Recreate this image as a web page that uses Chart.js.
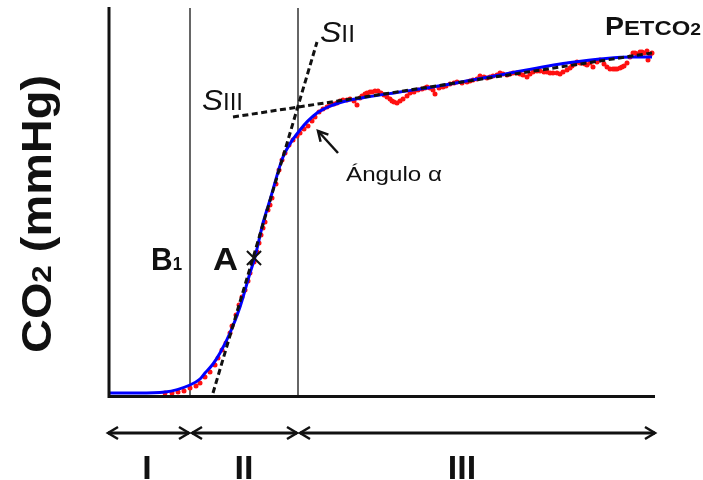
<!DOCTYPE html>
<html>
<head>
<meta charset="utf-8">
<script src="https://cdn.jsdelivr.net/npm/chart.js@4.4.1/dist/chart.umd.min.js"></script>
<style>
  body { margin: 0; background: #fff; }
  canvas { display: block; }
</style>
</head>
<body>
<canvas id="myChart" width="703" height="480"></canvas>
<script>
// Capnograma: tiempo (s) vs CO2 (mmHg)
const curveTime = [0, 0.3, 0.57, 0.82, 0.92, 0.97, 1.05, 1.12, 1.22, 1.32, 1.42, 1.47, 1.55, 1.62, 1.75, 1.92, 2.09, 2.25, 2.42, 2.59, 2.92, 3.25, 3.92, 4.59, 5.25, 5.44];
const curveCO2  = [0.2, 0.2, 0.3, 1.0, 1.6, 2.2, 3.1, 4.2, 6.2, 8.8, 12.2, 13.8, 17.2, 19.5, 23.8, 26.5, 28.2, 29.0, 29.5, 29.8, 30.3, 30.8, 32.0, 33.2, 33.8, 33.8];

// muestras medidas (puntos rojos)
const sampleTime = [0.57, 0.64, 0.70, 0.76, 0.82, 0.88, 0.92, 0.97, 1.02, 1.07, 1.10, 1.14, 1.18, 1.22, 1.24, 1.28, 1.31, 1.34, 1.37, 1.40, 1.42, 1.46, 1.49, 1.51, 1.53, 1.55, 1.57, 1.60, 1.62, 1.64, 1.68, 1.71, 1.74, 1.77, 1.81, 1.85, 1.89, 1.92, 1.96, 2.00, 2.04, 2.07, 2.11, 2.15, 2.19, 2.22, 2.26, 2.29, 2.32, 2.35, 2.39, 2.42, 2.46, 2.49, 2.52, 2.54, 2.57, 2.59, 2.62, 2.64, 2.67, 2.70, 2.73, 2.76, 2.79, 2.82, 2.84, 2.86, 2.89, 2.92, 2.95, 2.99, 3.02, 3.06, 3.10, 3.14, 3.17, 3.19, 3.22, 3.25, 3.27, 3.31, 3.35, 3.38, 3.42, 3.46, 3.49, 3.54, 3.59, 3.62, 3.65, 3.69, 3.72, 3.76, 3.79, 3.82, 3.85, 3.89, 3.92, 3.95, 3.99, 4.02, 4.05, 4.09, 4.12, 4.15, 4.19, 4.22, 4.25, 4.29, 4.32, 4.36, 4.39, 4.42, 4.45, 4.49, 4.52, 4.55, 4.59, 4.62, 4.64, 4.67, 4.69, 4.72, 4.74, 4.77, 4.79, 4.82, 4.85, 4.89, 4.92, 4.96, 4.99, 5.02, 5.05, 5.07, 5.09, 5.12, 5.14, 5.16, 5.19, 5.22, 5.25, 5.27, 5.29, 5.32, 5.34, 5.36, 5.39, 5.40, 5.42, 5.44];
const sampleCO2  = [0.2, 0.2, 0.3, 0.4, 0.7, 0.9, 1.2, 1.8, 2.3, 3.0, 3.7, 4.5, 5.2, 6.2, 6.9, 8.0, 9.0, 9.8, 10.5, 11.4, 12.2, 13.3, 14.3, 15.2, 16.0, 16.7, 17.3, 18.5, 19.0, 19.7, 21.1, 22.5, 23.5, 24.2, 25.0, 25.5, 25.9, 26.2, 26.6, 26.9, 27.4, 27.8, 28.3, 28.6, 28.8, 29.0, 29.1, 29.2, 29.4, 29.5, 29.5, 29.6, 29.4, 29.0, 29.7, 29.9, 30.1, 30.2, 30.3, 30.3, 30.4, 30.4, 30.2, 30.0, 29.8, 29.6, 29.4, 29.3, 29.2, 29.4, 29.6, 29.9, 30.2, 30.3, 30.5, 30.6, 30.7, 30.8, 30.7, 30.5, 30.1, 30.7, 30.8, 30.9, 31.1, 31.2, 31.3, 31.2, 31.3, 31.4, 31.5, 31.6, 31.9, 31.8, 31.7, 31.8, 31.9, 32.0, 32.2, 32.1, 32.0, 32.1, 32.2, 32.2, 32.1, 32.0, 31.8, 32.1, 32.3, 32.4, 32.4, 32.3, 32.3, 32.2, 32.2, 32.2, 32.1, 32.3, 32.5, 32.7, 32.9, 33.1, 33.3, 33.2, 33.2, 33.1, 33.0, 33.2, 32.8, 33.3, 33.5, 33.1, 32.8, 32.6, 32.6, 32.6, 32.6, 32.7, 32.8, 32.9, 33.2, 33.8, 34.2, 34.2, 34.1, 34.3, 34.3, 34.2, 34.4, 33.5, 34.0, 34.2];

// pendientes de fase II y fase III
const slopeIITime = [1.05, 2.09];
const slopeIICO2  = [0.2, 35.3];
const slopeIIITime = [1.25, 5.44];
const slopeIIICO2  = [27.8, 34.2];

// limites de fases
const phaseBounds = [0, 0.82, 1.90, 5.47];
const phaseLabels = ['I', 'II', 'III'];
const phaseLabelTime = [0.39, 1.36, 3.54];

const pointATime = [1.46];
const pointACO2 = [13.7];

const FONT = '"Liberation Sans", Arial, sans-serif';

function toXY(xs, ys) {
    return xs.map((x, i) => ({ x: x, y: ys[i] }));
}

// dibuja texto en partes y lo ajusta al ancho indicado
function drawParts(ctx, parts, x, y, width) {
    ctx.save();
    let natural = 0;
    parts.forEach(p => { ctx.font = p.font; natural += ctx.measureText(p.text).width; });
    ctx.translate(x, y);
    ctx.scale(width / natural, 1);
    let cx = 0;
    parts.forEach(p => {
        ctx.font = p.font;
        ctx.fillText(p.text, cx, 0);
        cx += ctx.measureText(p.text).width;
    });
    ctx.restore();
}

function chevron(ctx, x, y, dir) {
    ctx.beginPath();
    ctx.moveTo(x - dir * 10, y - 6);
    ctx.lineTo(x, y);
    ctx.lineTo(x - dir * 10, y + 6);
    ctx.stroke();
}

const annotate = {
    id: 'annotate',
    afterDatasetsDraw(chart) {
        const ctx = chart.ctx;
        const xs = chart.scales.x;
        const ys = chart.scales.y;
        const area = chart.chartArea;
        ctx.save();
        ctx.strokeStyle = '#111';
        ctx.fillStyle = '#111';
        ctx.lineCap = 'butt';

        // ejes
        ctx.lineWidth = 3;
        ctx.beginPath();
        ctx.moveTo(xs.getPixelForValue(0) + 1, area.top + 2);
        ctx.lineTo(xs.getPixelForValue(0) + 1, ys.getPixelForValue(0) + 1.5);
        ctx.lineTo(area.right, ys.getPixelForValue(0) + 1.5);
        ctx.stroke();

        // flechas de fases
        const ay = 433;
        ctx.lineWidth = 3;
        for (let i = 0; i < phaseLabels.length; i++) {
            const a = xs.getPixelForValue(phaseBounds[i]) + (i > 0 ? 2 : 0);
            const b = xs.getPixelForValue(phaseBounds[i + 1]) - (i < phaseLabels.length - 1 ? 1 : 0);
            ctx.beginPath();
            ctx.moveTo(a, ay);
            ctx.lineTo(b, ay);
            ctx.stroke();
            ctx.lineWidth = 2.5;
            chevron(ctx, a, ay, -1);
            chevron(ctx, b, ay, 1);
            ctx.lineWidth = 3;
            ctx.font = 'bold 34px ' + FONT;
            ctx.textAlign = 'center';
            ctx.textBaseline = 'alphabetic';
            ctx.fillText(phaseLabels[i], xs.getPixelForValue(phaseLabelTime[i]), 479);
        }
        ctx.textAlign = 'left';

        // titulo eje Y
        ctx.save();
        ctx.translate(51, 353);
        ctx.rotate(-Math.PI / 2);
        drawParts(ctx, [
            { text: 'CO', font: 'bold 42px ' + FONT },
            { text: '2', font: 'bold 28px ' + FONT },
            { text: ' (mmHg)', font: 'bold 42px ' + FONT }
        ], 0, 0, 278);
        ctx.restore();

        // etiquetas
        drawParts(ctx, [
            { text: 'P', font: 'bold 25px ' + FONT },
            { text: 'ETCO', font: 'bold 21px ' + FONT },
            { text: '2', font: 'bold 17px ' + FONT }
        ], 605, 35, 96);
        drawParts(ctx, [
            { text: 'B', font: 'bold 32px ' + FONT },
            { text: '1', font: 'bold 18px ' + FONT }
        ], 151, 270, 31);
        drawParts(ctx, [{ text: 'A', font: 'bold 32px ' + FONT }], 213, 270, 25);
        drawParts(ctx, [
            { text: 'S', font: 'italic 30px ' + FONT },
            { text: 'II', font: '23px ' + FONT }
        ], 320, 42, 35);
        drawParts(ctx, [
            { text: 'S', font: 'italic 30px ' + FONT },
            { text: 'III', font: '23px ' + FONT }
        ], 202, 110, 41);
        drawParts(ctx, [{ text: 'Ángulo α', font: '21px ' + FONT }], 346, 181, 96);

        // flecha angulo alfa
        const hx = xs.getPixelForValue(2.10), hy = ys.getPixelForValue(26.4);
        const tx = xs.getPixelForValue(2.30), ty = ys.getPixelForValue(24.2);
        ctx.lineWidth = 2.5;
        ctx.beginPath();
        ctx.moveTo(tx, ty);
        ctx.lineTo(hx, hy);
        ctx.stroke();
        const ang = Math.atan2(hy - ty, hx - tx);
        ctx.beginPath();
        ctx.moveTo(hx - 11 * Math.cos(ang - 0.5), hy - 11 * Math.sin(ang - 0.5));
        ctx.lineTo(hx, hy);
        ctx.lineTo(hx - 11 * Math.cos(ang + 0.5), hy - 11 * Math.sin(ang + 0.5));
        ctx.stroke();
        ctx.restore();
    }
};

const ctx = document.getElementById('myChart');

new Chart(ctx, {
    type: 'scatter',
    data: {
        datasets: [
            {
                label: 'A',
                data: toXY(pointATime, pointACO2),
                pointStyle: 'crossRot',
                pointRadius: 10,
                borderColor: '#111',
                borderWidth: 2,
                clip: false
            },
            {
                label: 'Pendiente II',
                data: toXY(slopeIITime, slopeIICO2),
                showLine: true,
                borderColor: '#111',
                borderWidth: 3,
                borderDash: [6, 3.5],
                pointRadius: 0,
                clip: false
            },
            {
                label: 'Pendiente III',
                data: toXY(slopeIIITime, slopeIIICO2),
                showLine: true,
                borderColor: '#111',
                borderWidth: 3,
                borderDash: [6, 3.5],
                pointRadius: 0,
                clip: false
            },
            {
                label: 'Ajuste',
                data: toXY(curveTime, curveCO2),
                showLine: true,
                borderColor: '#0000ff',
                borderWidth: 3,
                cubicInterpolationMode: 'monotone',
                pointRadius: 0,
                clip: false
            },
            {
                label: 'Muestras',
                data: toXY(sampleTime, sampleCO2),
                backgroundColor: '#ff1010',
                borderWidth: 0,
                pointRadius: 2.5,
                clip: false
            },
            {
                label: 'Limite I-II',
                data: toXY([phaseBounds[1], phaseBounds[1]], [0, 38.7]),
                showLine: true,
                borderColor: '#333',
                borderWidth: 1.5,
                pointRadius: 0
            },
            {
                label: 'Limite II-III',
                data: toXY([phaseBounds[2], phaseBounds[2]], [0, 38.7]),
                showLine: true,
                borderColor: '#333',
                borderWidth: 1.5,
                pointRadius: 0
            }
        ]
    },
    options: {
        responsive: false,
        animation: false,
        layout: { autoPadding: false, padding: { left: 108, right: 48, top: 5, bottom: 85 } },
        plugins: {
            legend: { display: false },
            tooltip: { enabled: false }
        },
        scales: {
            x: { type: 'linear', min: 0, max: 5.47, display: false },
            y: { type: 'linear', min: 0, max: 39, display: false }
        }
    },
    plugins: [annotate]
});
</script>
</body>
</html>
